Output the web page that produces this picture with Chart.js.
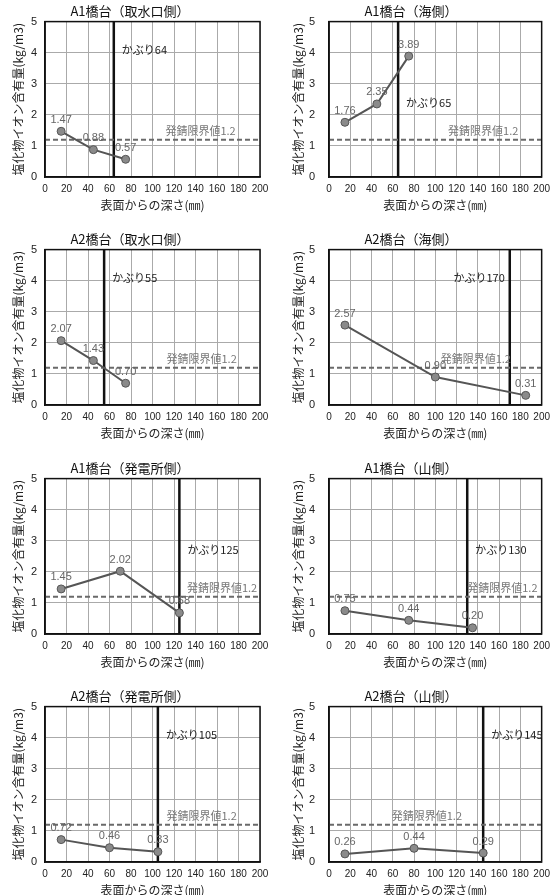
<!DOCTYPE html>
<html lang="ja">
<head>
<meta charset="utf-8">
<title>塩化物イオン含有量</title>
<script src="https://cdn.jsdelivr.net/npm/chart.js@4.4.1/dist/chart.umd.min.js"></script>
<style>
  html, body { margin: 0; padding: 0; background: #fff; width: 556px; height: 895px; overflow: hidden; }
  .panel { position: absolute; width: 278px; height: 215px; }
</style>
</head>
<body>
<script>
    // Chart data
    const titles = ['A1橋台（取水口側）', 'A1橋台（海側）', 'A2橋台（取水口側）', 'A2橋台（海側）',
                    'A1橋台（発電所側）', 'A1橋台（山側）', 'A2橋台（発電所側）', 'A2橋台（山側）'];
    const depthPoints = [[15, 45, 75], [15, 45, 75], [15, 45, 75], [15, 100, 185],
                         [15, 70, 125], [15, 75, 135], [15, 60, 105], [15, 80, 145]];
    const chlorideValues = [[1.47, 0.88, 0.57], [1.76, 2.35, 3.89], [2.07, 1.43, 0.70], [2.57, 0.90, 0.31],
                            [1.45, 2.02, 0.68], [0.75, 0.44, 0.20], [0.72, 0.46, 0.33], [0.26, 0.44, 0.29]];
    const coverDepths = [64, 65, 55, 170, 125, 130, 105, 145];
    const rustLimit = 1.2;
    const xTicks = [0, 20, 40, 60, 80, 100, 120, 140, 160, 180, 200];
    const yTicks = [0, 1, 2, 3, 4, 5];

    // Label placement (data units), kept apart from the values
    const coverLabelY = [4.1, 2.4, 4.1, 4.1, 2.7, 2.7, 4.1, 4.1];
    const coverLabelSide = ['right', 'right', 'right', 'left', 'right', 'right', 'right', 'right'];
    const limitLabelX = [112, 112, 113, 105, 132, 130, 113, 59];
    const limitLabelY = 1.5;

    // Panel positions on the page
    const rowTops = [0, 228, 457, 685];
    const colLefts = [0, 278];

    const tickFont = "'Liberation Sans', sans-serif";
    Chart.defaults.font.family = "'Noto Sans CJK JP', sans-serif";
    Chart.defaults.color = '#222';

    // Frame, value labels and annotations
    const panelText = {
      id: 'panelText',
      afterDatasetsDraw(chart, args, opts) {
        const { ctx, chartArea: area, scales: { x, y } } = chart;
        ctx.save();
        ctx.strokeStyle = '#111';
        ctx.lineWidth = 1.5;
        ctx.strokeRect(area.left, area.top, area.width, area.height);

        ctx.font = "11px 'Liberation Sans', sans-serif";
        ctx.fillStyle = '#666';
        ctx.textAlign = 'center';
        ctx.textBaseline = 'bottom';
        const pts = chart.data.datasets[0].data;
        chart.getDatasetMeta(0).data.forEach((el, i) => {
          ctx.fillText(pts[i].y.toFixed(2), el.x, el.y - 6);
        });

        ctx.font = "11px 'Noto Sans CJK JP', sans-serif";
        ctx.textBaseline = 'middle';
        ctx.fillStyle = '#222';
        const cx = x.getPixelForValue(opts.cover);
        if (opts.side === 'left') {
          ctx.textAlign = 'right';
          ctx.fillText('かぶり' + opts.cover, cx - 5, y.getPixelForValue(opts.coverY));
        } else {
          ctx.textAlign = 'left';
          ctx.fillText('かぶり' + opts.cover, cx + 8, y.getPixelForValue(opts.coverY));
        }

        ctx.fillStyle = '#777';
        ctx.textAlign = 'left';
        ctx.fillText('発錆限界値' + rustLimit, x.getPixelForValue(opts.limitX), y.getPixelForValue(limitLabelY));
        ctx.restore();
      }
    };

    titles.forEach((title, i) => {
      const col = i % 2;
      const row = Math.floor(i / 2);
      const div = document.createElement('div');
      div.className = 'panel';
      div.style.left = colLefts[col] + 'px';
      div.style.top = rowTops[row] + 'px';
      const canvas = document.createElement('canvas');
      canvas.width = 278;
      canvas.height = 215;
      div.appendChild(canvas);
      document.body.appendChild(div);

      new Chart(canvas, {
        type: 'scatter',
        data: {
          datasets: [
            {
              data: depthPoints[i].map((d, k) => ({ x: d, y: chlorideValues[i][k] })),
              showLine: true,
              borderColor: '#555',
              borderWidth: 2,
              pointRadius: 4,
              pointBackgroundColor: '#8a8a8a',
              pointBorderColor: '#555',
              pointBorderWidth: 1
            },
            {
              data: [{ x: xTicks[0], y: rustLimit }, { x: xTicks[xTicks.length - 1], y: rustLimit }],
              showLine: true,
              borderColor: '#6a6a6a',
              borderWidth: 2,
              borderDash: [5, 3],
              pointRadius: 0
            },
            {
              data: [{ x: coverDepths[i], y: yTicks[0] }, { x: coverDepths[i], y: yTicks[yTicks.length - 1] }],
              showLine: true,
              borderColor: '#111',
              borderWidth: 2.5,
              pointRadius: 0
            }
          ]
        },
        options: {
          responsive: false,
          animation: false,
          devicePixelRatio: 1,
          layout: { padding: { left: 0, right: col === 0 ? 18 : 12, top: 0, bottom: 0 } },
          plugins: {
            legend: { display: false },
            tooltip: { enabled: false },
            title: {
              display: true,
              text: title,
              color: '#111',
              font: { size: 13, weight: 'normal' },
              padding: { top: 3, bottom: 3 }
            },
            panelText: {
              cover: coverDepths[i],
              coverY: coverLabelY[i],
              side: coverLabelSide[i],
              limitX: limitLabelX[i]
            }
          },
          scales: {
            x: {
              min: xTicks[0],
              max: xTicks[xTicks.length - 1],
              afterBuildTicks: axis => { axis.ticks = xTicks.map(v => ({ value: v })); },
              afterFit: axis => { axis.height = 38; },
              grid: { color: '#aaa', lineWidth: 1, drawTicks: false },
              border: { color: '#111', width: 1.5 },
              ticks: { padding: 6, maxRotation: 0, autoSkip: false, color: '#222', font: { family: tickFont, size: 10 } },
              title: {
                display: true,
                text: '表面からの深さ(㎜)',
                color: '#222',
                font: { size: 12 },
                padding: { top: 0, bottom: 2 }
              }
            },
            y: {
              min: yTicks[0],
              max: yTicks[yTicks.length - 1],
              afterBuildTicks: axis => { axis.ticks = yTicks.map(v => ({ value: v })); },
              afterFit: axis => { axis.width = col === 0 ? 45 : 51; },
              grid: { color: '#aaa', lineWidth: 1, drawTicks: false },
              border: { color: '#111', width: 1.5 },
              ticks: { padding: col === 0 ? 8 : 14, color: '#222', font: { family: tickFont, size: 11 } },
              title: {
                display: true,
                text: '塩化物イオン含有量(kg/m3)',
                color: '#222',
                font: { size: 12 },
                padding: { top: col === 0 ? 11 : 13, bottom: 0 }
              }
            }
          }
        },
        plugins: [panelText]
      });
    });
</script>
</body>
</html>
